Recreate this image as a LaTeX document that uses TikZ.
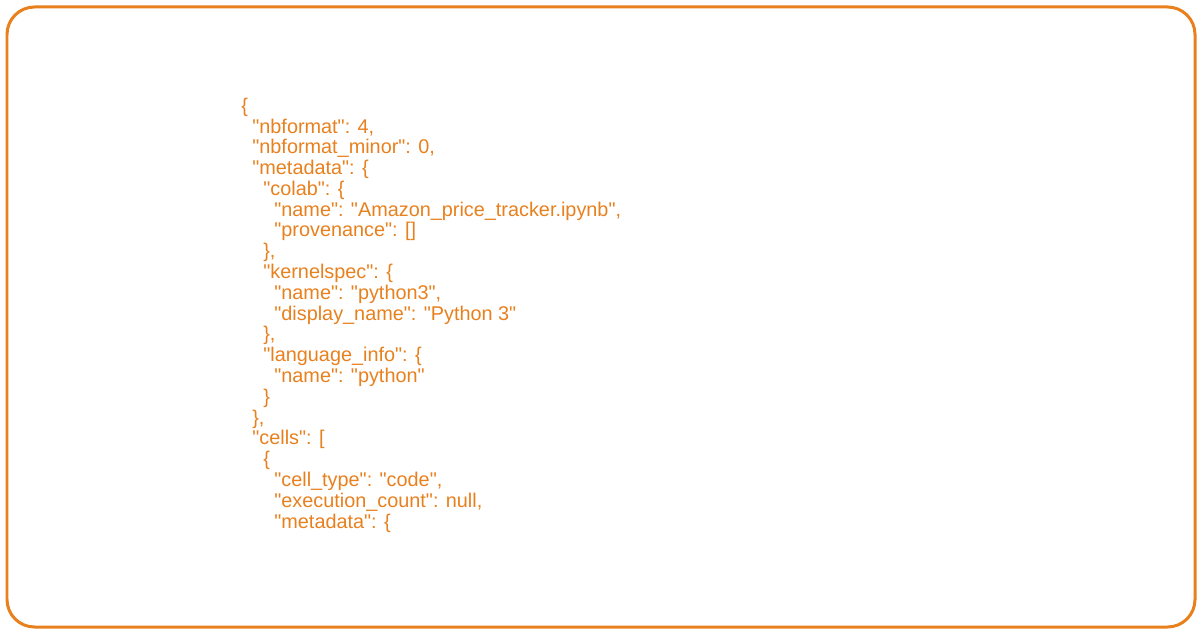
\documentclass[tikz,border=0pt]{standalone}
\usepackage{fontspec}
\setmainfont{Liberation Sans}[Ligatures=TeXOff]
\usepackage{xcolor}
\definecolor{codeorange}{HTML}{E8801E}
\tikzset{
	codeline/.style={anchor=west,inner sep=0pt,text=codeorange,font=\fontsize{11.3}{13}\selectfont},
	frame/.style={draw=codeorange,line width=0.06cm,rounded corners=0.55cm}
}

\begin{document}
\begin{tikzpicture}[x=0.02cm,y=-0.02cm]
    \useasboundingbox (0,0) rectangle (1202,634);
    \draw[frame] (7,7) rectangle (1195,627);

    % one node per line, indent of 11 per level
    \node[codeline] (l1) at (241,107.0) {\{};
    \node[codeline] (l2) at (252,127.8) {"nbformat": 4,};
    \node[codeline] (l3) at (252,148.6) {"nbformat\_minor": 0,};
    \node[codeline] (l4) at (252,169.4) {"metadata": \{};
    \node[codeline] (l5) at (263,190.2) {"colab": \{};
    \node[codeline] (l6) at (274,211.0) {"name": "Amazon\_price\_tracker.ipynb",};
    \node[codeline] (l7) at (274,231.8) {"provenance": []};
    \node[codeline] (l8) at (263,252.6) {\},};
    \node[codeline] (l9) at (263,273.4) {"kernelspec": \{};
    \node[codeline] (l10) at (274,294.2) {"name": "python3",};
    \node[codeline] (l11) at (274,315.0) {"display\_name": "Python 3"};
    \node[codeline] (l12) at (263,335.8) {\},};
    \node[codeline] (l13) at (263,356.6) {"language\_info": \{};
    \node[codeline] (l14) at (274,377.4) {"name": "python"};
    \node[codeline] (l15) at (263,398.2) {\}};
    \node[codeline] (l16) at (252,419.0) {\},};
    \node[codeline] (l17) at (252,439.8) {"cells": [};
    \node[codeline] (l18) at (263,460.6) {\{};
    \node[codeline] (l19) at (274,481.4) {"cell\_type": "code",};
    \node[codeline] (l20) at (274,502.2) {"execution\_count": null,};
    \node[codeline] (l21) at (274,523.0) {"metadata": \{};
\end{tikzpicture}
\end{document}
